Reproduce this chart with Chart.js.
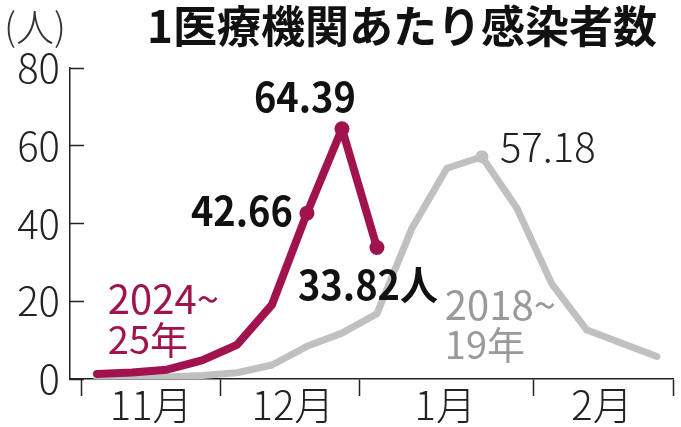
<!DOCTYPE html>
<html lang="ja">
<head>
<meta charset="utf-8">
<script src="https://cdn.jsdelivr.net/npm/chart.js"></script>
<style>
  body { margin: 0; background: #fff; }
  canvas { display: block; }
</style>
</head>
<body>
<canvas id="myChartCanvas1" width="681" height="427"></canvas>
<script>
// semanas (uma por ponto), de novembro a fevereiro
const semanas = [0, 1, 2, 3, 4, 5, 6, 7, 8, 9, 10, 11, 12, 13, 14, 15, 16];

// 1医療機関あたり感染者数
const temporada2425 = [1.3, 1.7, 2.4, 4.8, 8.8, 19.1, 42.66, 64.39, 33.82];
const temporada1819 = [0.2, 0.3, 0.5, 0.9, 1.6, 3.6, 8.4, 11.8, 16.8, 38.8, 54.2, 57.18, 43.9, 24.4, 12.6, 9.2, 5.8];

// eixo x: meses
const meses = ["11月", "12月", "1月", "2月"];
const centroMeses = [1.55, 5.6, 9.95, 14.43];
const limitesMeses = [-0.44, 3.54, 7.49, 12.46, 16.46];

const ticksY = [0, 20, 40, 60, 80];

const FONTE = '"Noto Sans CJK JP", "Noto Sans", sans-serif';
const VINHO = "#a0134e";
const CINZA = "#c0c0c0";

function pontos(valores) {
    return valores.map((v, i) => ({ x: semanas[i], y: v }));
}

function texto(ctx, s, px, py, fonte, cor, alinhamento, sx) {
    ctx.save();
    ctx.translate(px, py);
    ctx.scale(sx, 1);
    ctx.font = fonte;
    ctx.fillStyle = cor;
    ctx.textAlign = alinhamento;
    ctx.textBaseline = "middle";
    ctx.fillText(s, 0, 0);
    ctx.restore();
}

// rótulos e título desenhados por cima
const rotulos = {
    id: "rotulos",
    afterDatasetsDraw(chart) {
        const ctx = chart.ctx;
        const x = chart.scales.x;
        const y = chart.scales.y;

        // título
        texto(ctx, "1医療機関あたり感染者数", 402, 26, "bold 44px " + FONTE, "#111", "center", 1);
        texto(ctx, "(人)", 4, 27, "300 38px " + FONTE, "#333", "left", 1);

        const p6 = { x: x.getPixelForValue(semanas[6]), y: y.getPixelForValue(temporada2425[6]) };
        const p7 = { x: x.getPixelForValue(semanas[7]), y: y.getPixelForValue(temporada2425[7]) };
        const p8 = { x: x.getPixelForValue(semanas[8]), y: y.getPixelForValue(temporada2425[8]) };
        const p11 = { x: x.getPixelForValue(semanas[11]), y: y.getPixelForValue(temporada1819[11]) };

        texto(ctx, temporada2425[7].toFixed(2), p7.x - 37, p7.y - 32, "bold 40px " + FONTE, "#111", "center", 0.95);
        texto(ctx, temporada2425[6].toFixed(2), p6.x - 14, p6.y - 2, "bold 40px " + FONTE, "#111", "right", 0.95);
        texto(ctx, temporada2425[8].toFixed(2) + "人", p8.x - 79, p8.y + 37, "bold 40px " + FONTE, "#111", "left", 0.95);
        texto(ctx, temporada1819[11].toFixed(2), p11.x + 18, p11.y - 10, "300 40px " + FONTE, "#222", "left", 1);

        // nomes das séries
        texto(ctx, "2024~", x.getPixelForValue(0.31), y.getPixelForValue(20.6), "40px " + FONTE, VINHO, "left", 1);
        texto(ctx, "25年", x.getPixelForValue(0.31), y.getPixelForValue(10.2), "38px " + FONTE, VINHO, "left", 1);
        texto(ctx, "2018~", x.getPixelForValue(9.94), y.getPixelForValue(19.0), "40px " + FONTE, "#9a9a9a", "left", 1);
        texto(ctx, "19年", x.getPixelForValue(9.94), y.getPixelForValue(8.9), "38px " + FONTE, "#9a9a9a", "left", 1);
    }
};

function ehLimite(v) {
    return limitesMeses.some((l) => Math.abs(l - v) < 1e-6);
}

const dados = {
    datasets: [
        {
            label: "2024~25年",
            data: pontos(temporada2425),
            borderColor: VINHO,
            backgroundColor: VINHO,
            borderWidth: 8,
            borderJoinStyle: "round",
            borderCapStyle: "round",
            pointRadius: (c) => (c.dataIndex >= 6 ? 7.5 : 0),
            pointBorderWidth: 0,
            pointBackgroundColor: VINHO,
            tension: 0
        },
        {
            label: "2018~19年",
            data: pontos(temporada1819),
            borderColor: CINZA,
            backgroundColor: CINZA,
            borderWidth: 7,
            borderJoinStyle: "round",
            borderCapStyle: "round",
            pointRadius: (c) => (c.dataIndex === 11 ? 6.5 : 0),
            pointBorderWidth: 0,
            pointBackgroundColor: CINZA,
            tension: 0
        }
    ]
};

const config = {
    type: "line",
    data: dados,
    options: {
        responsive: false,
        animation: false,
        layout: { padding: { top: 68, right: 8, left: 0, bottom: 0 } },
        plugins: {
            legend: { display: false },
            tooltip: { enabled: false }
        },
        scales: {
            x: {
                type: "linear",
                min: -0.771,
                max: 16.46,
                afterBuildTicks(scale) {
                    scale.ticks = limitesMeses.concat(centroMeses)
                        .sort((a, b) => a - b)
                        .map((v) => ({ value: v }));
                },
                afterFit(scale) {
                    scale.height = 44;
                },
                ticks: {
                    autoSkip: false,
                    maxRotation: 0,
                    padding: -15,
                    color: "#222",
                    font: { family: FONTE, size: 40, weight: 300 },
                    callback(value) {
                        const i = centroMeses.findIndex((c) => Math.abs(c - value) < 1e-6);
                        return i >= 0 ? meses[i] : "";
                    }
                },
                grid: {
                    drawOnChartArea: false,
                    drawTicks: true,
                    tickLength: 17,
                    tickWidth: 1.5,
                    tickColor: (c) => (c.tick && ehLimite(c.tick.value) ? "#222" : "rgba(0,0,0,0)")
                },
                border: { display: true, color: "#222", width: 1.5 }
            },
            y: {
                min: 0,
                max: 80,
                afterBuildTicks(scale) {
                    scale.ticks = ticksY.map((v) => ({ value: v }));
                },
                afterFit(scale) {
                    scale.width = 70;
                },
                ticks: {
                    padding: 24,
                    color: "#222",
                    font: { family: FONTE, size: 40, weight: 300 }
                },
                grid: {
                    drawOnChartArea: false,
                    drawTicks: true,
                    tickLength: -14,
                    tickWidth: 1.5,
                    tickColor: "#222"
                },
                border: { display: true, color: "#222", width: 1.5 }
            }
        }
    },
    plugins: [rotulos]
};

let myChart = new Chart(document.getElementById("myChartCanvas1"), config);
</script>
</body>
</html>
